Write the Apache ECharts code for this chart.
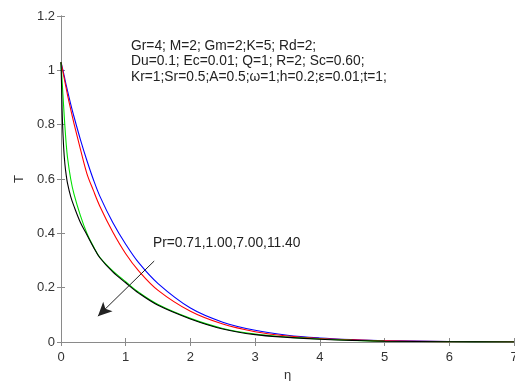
<!DOCTYPE html>
<html>
<head>
<meta charset="utf-8">
<script src="https://cdn.jsdelivr.net/npm/echarts@6/dist/echarts.min.js"></script>
<style>html,body{margin:0;padding:0;background:#fff}#c{width:515px;height:381px}</style>
</head>
<body>
<div id="c"></div>
<script>
var eta = [0,0.01,0.02,0.04,0.06,0.08,0.1,0.15,0.2,0.3,0.4,0.5,0.6,0.8,1.0,1.2,1.5,2,2.5,3,3.5,4,4.5,5,6,7];
var T_Pr071 = [1.03,1.02,1.01,0.99,0.968,0.946,0.925,0.876,0.83,0.745,0.668,0.598,0.537,0.44,0.36,0.292,0.215,0.125,0.073,0.043,0.025,0.015,0.009,0.005,0.002,0.001];
var T_Pr100 = [1.03,1.018,1.006,0.982,0.958,0.934,0.91,0.856,0.805,0.71,0.62,0.558,0.5,0.405,0.325,0.262,0.19,0.113,0.066,0.038,0.022,0.013,0.008,0.004,0.0015,0.0005];
var T_Pr700 = [1.03,0.99,0.95,0.87,0.795,0.73,0.68,0.6,0.545,0.465,0.4,0.352,0.312,0.262,0.222,0.183,0.138,0.087,0.05,0.029,0.018,0.011,0.006,0.003,0.001,0];
var T_Pr1140 = [1.03,0.93,0.83,0.72,0.655,0.615,0.585,0.535,0.5,0.44,0.395,0.35,0.31,0.258,0.218,0.18,0.135,0.085,0.048,0.027,0.017,0.01,0.006,0.003,0.001,0];
var seriesNames = ['Pr=0.71','Pr=1.00','Pr=7.00','Pr=11.40'];
var seriesColors = ['#0000ff','#ff0000','#00e000','#000000'];
var xTicks = [0,1,2,3,4,5,6,7];
var yTicks = [0,0.2,0.4,0.6,0.8,1,1.2];
var paramLines = ['Gr=4; M=2; Gm=2;K=5; Rd=2;','Du=0.1; Ec=0.01; Q=1; R=2; Sc=0.60;','Kr=1;Sr=0.5;A=0.5;\u03c9=1;h=0.2;\u03b5=0.01;t=1;'];
var prLabel = 'Pr=0.71,1.00,7.00,11.40';
var arrowFrom = [1.44, 0.298];
var arrowTo = [0.57, 0.095];

function pairs(ys){ return eta.map(function(x,i){ return [x, ys[i]]; }); }
var allT = [T_Pr071, T_Pr100, T_Pr700, T_Pr1140];

var chart = echarts.init(document.getElementById('c'), null, {renderer:'canvas'});
var axisCol = '#8a8a8a';
var lblCol = '#333';
var font = 'Liberation Sans, Arial, sans-serif';
var series = allT.map(function(ys, i){
  return {
    name: seriesNames[i], type:'line', data: pairs(ys), showSymbol:false,
    smooth:0.35, lineStyle:{color:seriesColors[i], width:1.1},
    z: 3 + i, silent:true
  };
});
series[0].markLine = {
  silent:true, symbol:['none','arrow'], symbolSize:[10,14],
  label:{show:false},
  lineStyle:{color:'#222', width:1, type:'solid'},
  data:[[{coord:arrowFrom},{coord:arrowTo}]]
};

chart.setOption({
  animation:false,
  grid:{left:61, right:1, top:16, bottom:39, containLabel:false, outerBoundsMode:'none'},
  xAxis:[{
    type:'value', min:0, max:7, interval:1, position:'bottom',
    name:'\u03b7', nameLocation:'middle', nameGap:27,
    nameTextStyle:{color:lblCol, fontSize:13, fontFamily:font},
    axisLine:{show:true, lineStyle:{color:axisCol}},
    axisTick:{show:true, inside:true, length:4, lineStyle:{color:axisCol}},
    axisLabel:{color:lblCol, fontSize:13, fontFamily:font, margin:9, hideOverlap:false,
      formatter:function(v){ return xTicks.indexOf(v)>=0 ? String(v) : ''; }},
    splitLine:{show:false}
  },{
    type:'value', min:0, max:7, interval:1, position:'top',
    axisLine:{show:true, lineStyle:{color:axisCol}},
    axisTick:{show:true, inside:true, length:4, lineStyle:{color:axisCol}},
    axisLabel:{show:false}, splitLine:{show:false}
  }],
  yAxis:[{
    type:'value', min:0, max:1.2, interval:0.2, position:'left',
    name:'T', nameLocation:'middle', nameGap:35,
    nameTextStyle:{color:lblCol, fontSize:13, fontFamily:font},
    axisLine:{show:true, lineStyle:{color:axisCol}},
    axisTick:{show:true, inside:true, length:4, lineStyle:{color:axisCol}},
    axisLabel:{color:lblCol, fontSize:13, fontFamily:font, margin:6,
      formatter:function(v){ var r=Math.round(v*10)/10; return yTicks.indexOf(r)>=0 ? String(r) : ''; }},
    splitLine:{show:false}
  },{
    type:'value', min:0, max:1.2, interval:0.2, position:'right',
    axisLine:{show:true, lineStyle:{color:axisCol}},
    axisTick:{show:true, inside:true, length:4, lineStyle:{color:axisCol}},
    axisLabel:{show:false}, splitLine:{show:false}
  }],
  series: series,
  graphic: paramLines.map(function(t, i){
    return {type:'text', left:131, top:39 + i*15.4,
      style:{text:t, fill:'#222', font:'13.8px ' + font}};
  }).concat([{
    type:'text', left:153, top:236,
    style:{text:prLabel, fill:'#222', font:'13.8px ' + font}
  }])
});
</script>
</body>
</html>
